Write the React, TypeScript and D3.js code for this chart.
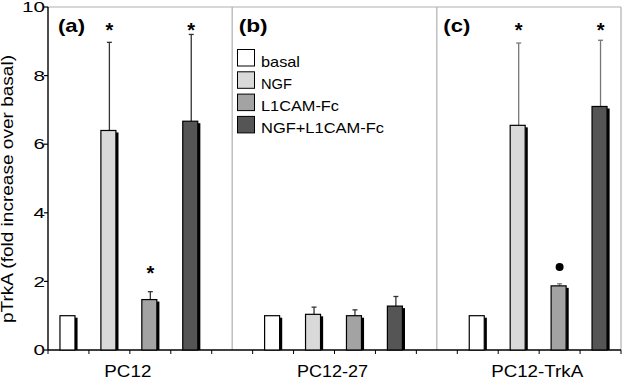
import React from "react";
import * as d3 from "d3";

const groups = ["PC12", "PC12-27", "PC12-TrkA"];
const panelLabels = ["(a)", "(b)", "(c)"];
const conditions = ["basal", "NGF", "L1CAM-Fc", "NGF+L1CAM-Fc"];
const colors = ["#ffffff", "#d9d9d9", "#a3a3a3", "#555555"];
const meanPC12 = [1.0, 6.4, 1.47, 6.67];
const meanPC1227 = [1.0, 1.04, 1.0, 1.28];
const meanTrkA = [1.0, 6.55, 1.87, 7.1];
const errPC12 = [0, 2.57, 0.23, 2.53];
const errPC1227 = [0, 0.21, 0.17, 0.28];
const errTrkA = [0, 2.4, 0.06, 1.93];
const markPC12 = ["", "*", "*", "*"];
const markPC1227 = ["", "", "", ""];
const markTrkA = ["", "*", "dot", "*"];
const markValPC12 = [0, 9.45, 2.36, 9.45];
const markValPC1227 = [0, 0, 0, 0];
const markValTrkA = [0, 9.45, 2.42, 9.45];
const yTicks = [0, 2, 4, 6, 8, 10];

const means = [meanPC12, meanPC1227, meanTrkA];
const errs = [errPC12, errPC1227, errTrkA];
const marks = [markPC12, markPC1227, markTrkA];
const markVals = [markValPC12, markValPC1227, markValTrkA];

// measured text widths in the reference (layout)
const groupLabelW = [47, 71, 92];
const panelLabelW = [27, 29, 27];
const legendW = [39, 31, 78, 123];
const errColor = ["#333", "#333", "#777"];

const W = 622, H = 378;
const left = 48, right = 621, top = 7, bottom = 350;
const font = "'Liberation Sans', Arial, sans-serif";

export default function App() {
  const slots: string[] = [];
  groups.forEach((g, gi) => {
    conditions.forEach((c) => slots.push(g + "|" + c));
    if (gi < groups.length - 1) slots.push("gap" + gi);
  });
  const x = d3.scaleBand<string>().domain(slots).range([left, right]).padding(0);
  const y = d3.scaleLinear().domain([0, 10]).range([bottom, top]);
  const bw = x.bandwidth();
  const barW = 15;
  const shadow = 2.6;

  return (
    <svg width={W} height={H} style={{ position: "absolute", left: 0, top: 0 }} fontFamily={font}>
      <rect x={0} y={0} width={W} height={H} fill="#fff" />
      <line x1={left} x2={right} y1={top} y2={top} stroke="#b0b0b0" strokeWidth={1.2} />
      <line x1={right} x2={right} y1={top} y2={bottom} stroke="#b0b0b0" strokeWidth={1.2} />
      {[0, 1].map((i) => {
        const cx = (x("gap" + i) as number) + bw / 2;
        return <line key={i} x1={cx} x2={cx} y1={top} y2={bottom} stroke="#b0b0b0" strokeWidth={1.2} />;
      })}
      <line x1={left} x2={left} y1={top} y2={bottom} stroke="#000" strokeWidth={1.4} />
      {yTicks.map((t) => (
        <g key={t}>
          <line x1={left - 4} x2={left} y1={y(t)} y2={y(t)} stroke="#000" strokeWidth={1.2} />
          <text x={45} y={y(t) + 5.2} textAnchor="end" fontSize={14.5}
            textLength={String(t).length * 11.5} lengthAdjust="spacingAndGlyphs">{t}</text>
        </g>
      ))}
      <text transform={`translate(12.5,189) rotate(-90)`} textAnchor="middle" fontSize={16}
        textLength={268} lengthAdjust="spacingAndGlyphs">
        pTrkA (fold increase over basal)
      </text>
      <line x1={left} x2={right} y1={bottom} y2={bottom} stroke="#000" strokeWidth={1.4} />
      {slots.map((s) => (
        <line key={s} x1={x(s)} x2={x(s)} y1={bottom} y2={bottom + 4} stroke="#000" strokeWidth={1} />
      ))}
      <line x1={right} x2={right} y1={bottom} y2={bottom + 4} stroke="#000" strokeWidth={1} />
      {groups.map((g, gi) => {
        const x0 = x(g + "|" + conditions[0]) as number;
        const x1 = (x(g + "|" + conditions[3]) as number) + bw;
        return (
          <g key={g}>
            <text x={(x0 + x1) / 2 - 2} y={376.5} textAnchor="middle" fontSize={16.3}
              textLength={groupLabelW[gi]} lengthAdjust="spacingAndGlyphs">{g}</text>
            <text x={gi === 0 ? 58 : x0 - 14} y={31.5} fontSize={18.5} fontWeight="bold"
              textLength={panelLabelW[gi]} lengthAdjust="spacingAndGlyphs">{panelLabels[gi]}</text>
            {conditions.map((c, ci) => {
              const sx = (x(g + "|" + c) as number) + bw / 2;
              const v = means[gi][ci];
              const e = errs[gi][ci];
              const bx = sx - barW / 2 - 1;
              const ty = y(v);
              const mk = marks[gi][ci];
              const my = y(markVals[gi][ci]);
              return (
                <g key={c}>
                  {e > 0 && (
                    <g stroke={errColor[gi]} strokeWidth={1.3}>
                      <line x1={sx} x2={sx} y1={ty} y2={y(v + e)} />
                      <line x1={sx - 2.5} x2={sx + 2.5} y1={y(v + e)} y2={y(v + e)} />
                    </g>
                  )}
                  <rect x={bx + barW} y={ty + 2} width={shadow} height={bottom - ty - 2} fill="#000" />
                  <rect x={bx} y={ty} width={barW} height={bottom - ty} fill={colors[ci]} stroke="#000" strokeWidth={1.2} />
                  {mk === "*" && (
                    <text x={sx} y={my + 11} textAnchor="middle" fontSize={20} fontWeight="bold">*</text>
                  )}
                  {mk === "dot" && <circle cx={sx} cy={my} r={4} fill="#000" />}
                </g>
              );
            })}
          </g>
        );
      })}
      {conditions.map((c, i) => (
        <g key={c}>
          <rect x={237.5} y={49.5 + i * 22.3} width={17} height={16.5} fill={colors[i]} stroke="#000" strokeWidth={1} />
          <text x={261} y={66.5 + i * 22.3} fontSize={14.8}
            textLength={legendW[i]} lengthAdjust="spacingAndGlyphs">{c}</text>
        </g>
      ))}
    </svg>
  );
}
